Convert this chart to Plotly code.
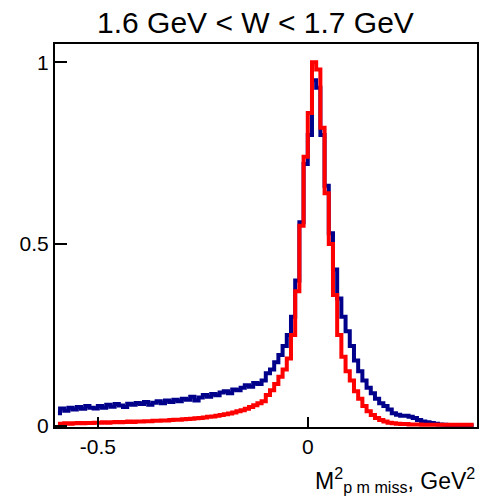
import plotly.graph_objects as go

# bin centers, width 0.01 from -0.6 to 0.4
bin_lo = -0.6
bin_w = 0.01
n_bins = 100
x_centers = [round(bin_lo + bin_w * (i + 0.5), 4) for i in range(n_bins)]

blue_vals = [
    0.035, 0.048, 0.042, 0.050, 0.045, 0.052, 0.047, 0.055, 0.050, 0.048,
    0.055, 0.050, 0.058, 0.053, 0.060, 0.056, 0.052, 0.061, 0.058, 0.063,
    0.060, 0.066, 0.058, 0.064, 0.068, 0.062, 0.070, 0.066, 0.072, 0.068,
    0.075, 0.072, 0.080, 0.070, 0.078, 0.085, 0.080, 0.088, 0.084, 0.092,
    0.095, 0.090, 0.100, 0.098, 0.105, 0.112, 0.108, 0.118, 0.115, 0.125,
    0.145, 0.155, 0.175, 0.195, 0.220, 0.250, 0.300, 0.400, 0.560, 0.720,
    0.800, 0.950, 0.930, 0.800, 0.660, 0.530, 0.430, 0.350, 0.300, 0.260,
    0.220, 0.180, 0.150, 0.125, 0.105, 0.090, 0.075, 0.062, 0.055, 0.045,
    0.035, 0.031, 0.028, 0.028, 0.025, 0.022, 0.016, 0.012, 0.010, 0.008,
    0.006, 0.004, 0.003, 0.002, 0.002, 0.002, 0.001, 0.001, 0.001, 0.001,
]

red_vals = [
    0.006, 0.006, 0.007, 0.006, 0.007, 0.008, 0.007, 0.008, 0.008, 0.009,
    0.009, 0.010, 0.009, 0.010, 0.011, 0.010, 0.011, 0.012, 0.011, 0.012,
    0.012, 0.013, 0.013, 0.014, 0.014, 0.015, 0.015, 0.016, 0.017, 0.017,
    0.018, 0.019, 0.020, 0.021, 0.022, 0.023, 0.025, 0.026, 0.028, 0.030,
    0.032, 0.034, 0.037, 0.040, 0.043, 0.047, 0.052, 0.057, 0.062, 0.068,
    0.085, 0.098, 0.115, 0.135, 0.155, 0.185, 0.250, 0.370, 0.550, 0.740,
    0.860, 1.000, 0.980, 0.820, 0.640, 0.500, 0.360, 0.250, 0.190, 0.150,
    0.125, 0.095, 0.075, 0.055, 0.040, 0.030, 0.022, 0.016, 0.012, 0.009,
    0.007, 0.006, 0.005, 0.005, 0.004, 0.004, 0.004, 0.003, 0.003, 0.003,
    0.003, 0.003, 0.003, 0.003, 0.003, 0.003, 0.003, 0.003, 0.003, 0.003,
]

x_ticks = [-0.5, 0]
x_tick_text = ["-0.5", "0"]
y_ticks = [0, 0.5, 1]
y_tick_text = ["0", "0.5", "1"]

title_text = "1.6 GeV < W < 1.7 GeV"
x_label = "M<sup>2</sup><sub>p m miss</sub>, GeV<sup>2</sup>"

font_family = "Liberation Sans, Arial, sans-serif"

fig = go.Figure()
fig.add_trace(go.Scatter(x=x_centers, y=blue_vals, mode="lines", line_shape="hvh",
                         line=dict(color="#00008b", width=4), showlegend=False))
fig.add_trace(go.Scatter(x=x_centers, y=red_vals, mode="lines", line_shape="hvh",
                         line=dict(color="#ff0000", width=4), showlegend=False))

fig.update_layout(
    width=482, height=498,
    margin=dict(l=55, r=3, t=44, b=71),
    paper_bgcolor="white", plot_bgcolor="white",
    font=dict(family=font_family, color="black", size=21),
    title=dict(text=title_text, x=0.53, xanchor="center", y=0.955, yanchor="middle",
               font=dict(size=30, family=font_family, color="black")),
    xaxis=dict(range=[-0.602, 0.403], tickvals=x_ticks, ticktext=x_tick_text,
               ticks="inside", ticklen=10, tickwidth=2, tickcolor="black",
               showline=True, linecolor="black", linewidth=2, mirror=True,
               showgrid=False, zeroline=False, tickfont=dict(size=21)),
    yaxis=dict(range=[-0.003, 1.05], tickvals=y_ticks, ticktext=y_tick_text,
               ticks="inside", ticklen=12, tickwidth=2, tickcolor="black",
               showline=True, linecolor="black", linewidth=2, mirror=True,
               showgrid=False, zeroline=False, tickfont=dict(size=21)),
    annotations=[dict(text=x_label, xref="paper", yref="paper", x=1.0, y=-0.138,
                      xanchor="right", yanchor="middle", showarrow=False,
                      font=dict(size=23, family=font_family, color="black"))],
)

fig.write_html("out.html")
